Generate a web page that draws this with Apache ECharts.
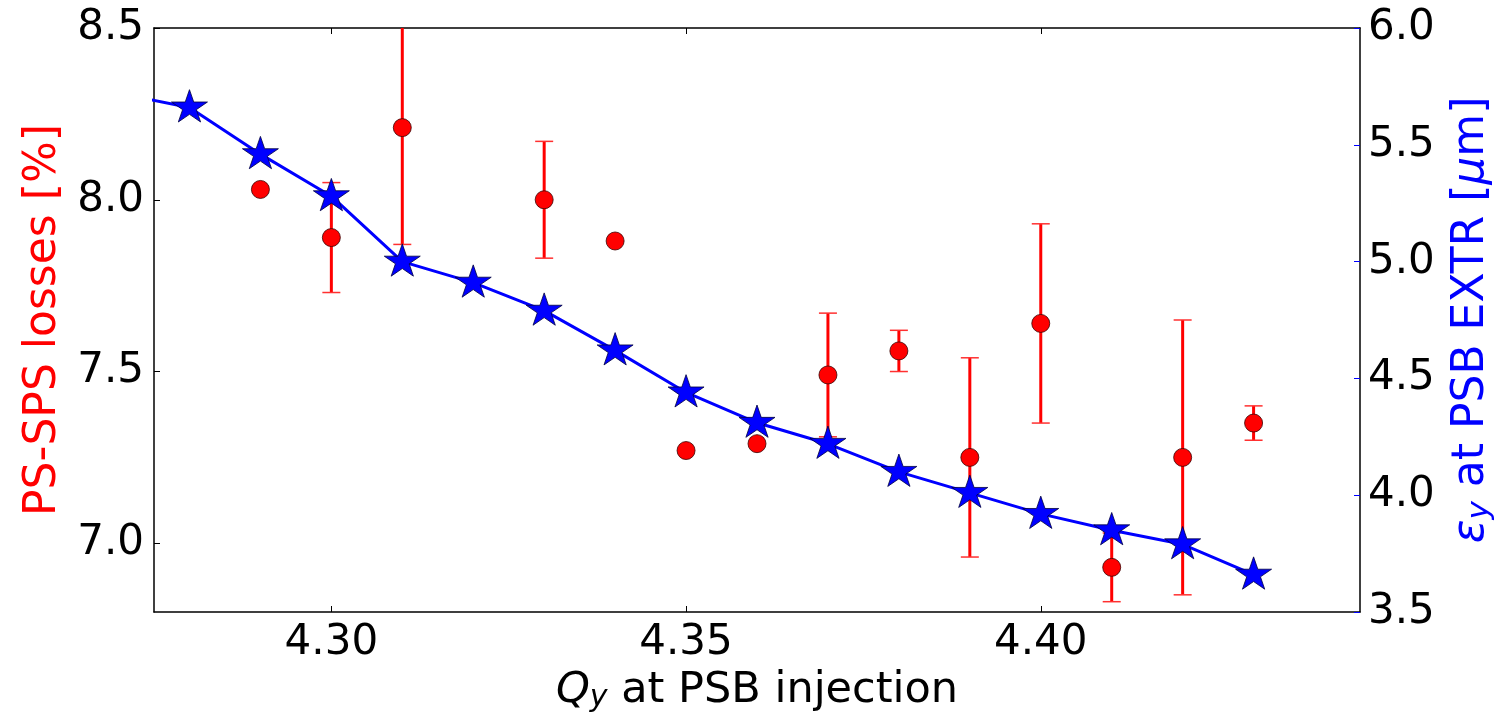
<!DOCTYPE html>
<html>
<head>
<meta charset="utf-8">
<script src="https://cdn.jsdelivr.net/npm/echarts@6/dist/echarts.min.js"></script>
<style>
  html, body { margin: 0; padding: 0; background: #fff; }
  #chart { width: 1504px; height: 721px; }
</style>
</head>
<body>
<div id="chart"></div>
<script>
// emittance at PSB extraction (right axis, blue stars)
const qyEmit = [4.27, 4.28, 4.29, 4.30, 4.31, 4.32, 4.33, 4.34, 4.35, 4.36, 4.37, 4.38, 4.39, 4.40, 4.41, 4.42, 4.43];
const emittance = [5.72, 5.66, 5.46, 5.28, 5.00, 4.91, 4.79, 4.62, 4.44, 4.31, 4.22, 4.10, 4.01, 3.92, 3.85, 3.79, 3.66];

// PS-SPS losses (left axis, red dots with error bars)
const qyLoss = [4.29, 4.30, 4.31, 4.33, 4.34, 4.35, 4.36, 4.37, 4.38, 4.39, 4.40, 4.41, 4.42, 4.43];
const losses = [8.03, 7.89, 8.21, 8.00, 7.88, 7.27, 7.29, 7.49, 7.56, 7.25, 7.64, 6.93, 7.25, 7.35];
const lossErr = [0, 0.16, 0.34, 0.17, 0, 0, 0, 0.18, 0.06, 0.29, 0.29, 0.10, 0.40, 0.05];

// tick labels
const xTicks = [4.30, 4.35, 4.40];
const yLeftTicks = [7.0, 7.5, 8.0, 8.5];
const yRightTicks = [3.5, 4.0, 4.5, 5.0, 5.5, 6.0];

const FONT = "DejaVu Sans";

// matplotlib style '*' marker
function starPath() {
  let pts = [];
  for (let k = 0; k < 10; k++) {
    const a = (-90 + k * 36) * Math.PI / 180;
    const r = k % 2 === 0 ? 1 : 0.381966;
    pts.push((r * Math.cos(a)).toFixed(4) + " " + (r * Math.sin(a)).toFixed(4));
  }
  return "path://M" + pts.join(" L") + " Z";
}

const chart = echarts.init(document.getElementById("chart"), null, { renderer: "canvas" });

const tickLabel = { color: "#000", fontFamily: FONT, fontSize: 42 };

chart.setOption({
  animation: false,
  grid: { left: 154, right: 144, top: 28, bottom: 109, containLabel: false },
  xAxis: [
    {
      type: "value",
      min: 4.275,
      max: 4.445,
      position: "bottom",
      name: "{i|Q}{s|y}{t| at PSB injection}",
      nameLocation: "middle",
      nameGap: 50,
      nameTextStyle: {
        rich: {
          i: { fontFamily: FONT, fontSize: 43, fontStyle: "italic", color: "#000", lineHeight: 50, verticalAlign: "top" },
          s: { fontFamily: FONT, fontSize: 30, fontStyle: "italic", color: "#000", lineHeight: 62, verticalAlign: "top", padding: [14, 0, 0, 0] },
          t: { fontFamily: FONT, fontSize: 43, color: "#000", lineHeight: 50, verticalAlign: "top" }
        }
      },
      axisLine: { show: true, lineStyle: { color: "#000", width: 1.5 } },
      axisTick: { show: true, inside: true, length: 6, customValues: xTicks, lineStyle: { color: "#000" } },
      axisLabel: { ...tickLabel, margin: 10, customValues: xTicks, formatter: v => v.toFixed(2) },
      splitLine: { show: false }
    },
    {
      type: "value",
      min: 4.275,
      max: 4.445,
      position: "top",
      axisLine: { show: true, lineStyle: { color: "#000", width: 1.5 } },
      axisTick: { show: true, inside: true, length: 6, customValues: xTicks, lineStyle: { color: "#000" } },
      axisLabel: { show: false },
      splitLine: { show: false }
    }
  ],
  yAxis: [
    {
      type: "value",
      min: 6.8,
      max: 8.5,
      position: "left",
      name: "PS-SPS losses [%]",
      nameLocation: "middle",
      nameGap: 88,
      nameTextStyle: { color: "#ff0000", fontFamily: FONT, fontSize: 44 },
      axisLine: { show: true, lineStyle: { color: "#000", width: 1.5 } },
      axisTick: { show: true, inside: true, length: 6, customValues: yLeftTicks, lineStyle: { color: "#000" } },
      axisLabel: { ...tickLabel, margin: 10, customValues: yLeftTicks, formatter: v => v.toFixed(1) },
      splitLine: { show: false }
    },
    {
      type: "value",
      min: 3.5,
      max: 6.0,
      position: "right",
      name: "{e|ε}{s|y}{t| at PSB EXTR [}{e|μ}{t|m]}",
      nameLocation: "middle",
      nameGap: 90,
      nameTextStyle: {
        rich: {
          e: { fontFamily: FONT, fontSize: 44, fontStyle: "italic", color: "#0000ff", lineHeight: 50, verticalAlign: "top" },
          s: { fontFamily: FONT, fontSize: 31, fontStyle: "italic", color: "#0000ff", lineHeight: 62, verticalAlign: "top", padding: [14, 0, 0, 0] },
          t: { fontFamily: FONT, fontSize: 44, color: "#0000ff", lineHeight: 50, verticalAlign: "top" }
        }
      },
      axisLine: { show: true, lineStyle: { color: "#000", width: 1.5 } },
      axisTick: { show: true, inside: true, length: 6, customValues: yRightTicks, lineStyle: { color: "#0000ff" } },
      axisLabel: { ...tickLabel, margin: 8, customValues: yRightTicks, formatter: v => v.toFixed(1) },
      splitLine: { show: false }
    }
  ],
  series: [
    {
      name: "loss errors",
      type: "custom",
      xAxisIndex: 0,
      yAxisIndex: 0,
      clip: true,
      silent: true,
      z: 2,
      data: qyLoss.map((q, i) => [q, losses[i], lossErr[i]]),
      renderItem: function (params, api) {
        const x = api.value(0), y = api.value(1), e = api.value(2);
        if (!e) return null;
        const top = api.coord([x, y + e]);
        const bot = api.coord([x, y - e]);
        const cap = 9;
        return {
          type: "group",
          children: [
            { type: "line", shape: { x1: top[0], y1: top[1], x2: bot[0], y2: bot[1] }, style: { stroke: "#ff0000", lineWidth: 3 } },
            { type: "line", shape: { x1: top[0] - cap, y1: top[1], x2: top[0] + cap, y2: top[1] }, style: { stroke: "#ff3030", lineWidth: 1.5 } },
            { type: "line", shape: { x1: bot[0] - cap, y1: bot[1], x2: bot[0] + cap, y2: bot[1] }, style: { stroke: "#ff3030", lineWidth: 1.5 } }
          ]
        };
      }
    },
    {
      name: "PS-SPS losses",
      type: "scatter",
      xAxisIndex: 0,
      yAxisIndex: 0,
      z: 3,
      symbol: "circle",
      symbolSize: 18,
      itemStyle: { color: "#ff0000", borderColor: "#3a0000", borderWidth: 0.8, opacity: 1 },
      data: qyLoss.map((q, i) => [q, losses[i]])
    },
    {
      name: "emittance",
      type: "line",
      xAxisIndex: 0,
      yAxisIndex: 1,
      z: 4,
      clip: true,
      symbol: starPath(),
      symbolSize: [36, 34],
      symbolKeepAspect: true,
      symbolOffset: [0, -1.6],
      showAllSymbol: true,
      lineStyle: { color: "#0000ff", width: 3 },
      itemStyle: { color: "#0000ff", borderColor: "#000040", borderWidth: 0.8 },
      data: qyEmit.map((q, i) => [q, emittance[i]])
    }
  ]
});
</script>
</body>
</html>
